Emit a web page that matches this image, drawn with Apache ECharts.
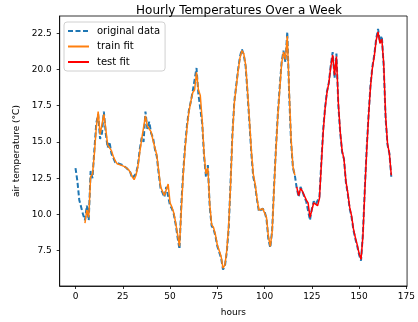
<!DOCTYPE html>
<html>
<head>
<meta charset="utf-8">
<script src="https://cdn.jsdelivr.net/npm/echarts@6/dist/echarts.min.js"></script>
<style>
    html, body { margin: 0; padding: 0; background: #fff; }
    #chart { width: 418px; height: 322px; }
</style>
</head>
<body>
<div id="chart"></div>
<script>
// 原始数据 每小时一个点 (0..167)
var original = [13.2, 12.3, 11.0, 10.5, 10.0, 9.6, 10.6, 9.6, 13.0, 12.5,
    14.5, 16.3, 16.9, 15.2, 15.6, 17.1, 15.6, 14.6, 15.0, 14.2,
    13.9, 13.6, 13.6, 13.5, 13.4, 13.4, 13.3, 13.2, 13.1, 12.9,
    12.5, 12.4, 12.8, 13.4, 14.5, 15.3, 15.0, 17.1, 15.9, 16.4,
    15.6, 15.3, 14.5, 14.0, 12.8, 11.8, 11.5, 11.2, 11.9, 12.0,
    10.6, 10.4, 10.0, 9.3, 8.4, 7.6, 10.8, 13.0, 14.8, 16.2,
    17.2, 17.8, 18.5, 18.4, 20.1, 18.3, 18.4, 16.3, 14.0, 12.6,
    13.4, 10.5, 9.2, 9.0, 8.5, 7.8, 7.9, 7.0, 6.2, 6.4,
    7.4, 9.0, 12.2, 15.6, 17.8, 18.9, 20.0, 20.9, 21.4, 21.0,
    20.2, 18.3, 16.3, 14.2, 12.6, 12.0, 11.0, 10.2, 10.3, 10.4,
    10.2, 9.7, 8.3, 7.7, 8.9, 11.9, 14.6, 16.9, 18.8, 20.5,
    21.3, 20.5, 22.6, 18.3, 15.0, 13.2, 12.7, 11.8, 11.2, 11.9,
    11.6, 11.2, 10.9, 10.8, 9.6, 10.4, 10.9, 10.7, 10.7, 11.2,
    13.6, 15.9, 17.4, 18.5, 19.1, 20.3, 21.2, 19.4, 21.1, 17.5,
    15.6, 14.3, 13.8, 12.2, 11.4, 10.4, 9.8, 8.9, 8.3, 7.8,
    7.2, 6.8, 8.7, 11.8, 14.6, 16.9, 18.9, 20.2, 21.0, 22.1,
    22.8, 21.9, 22.3, 20.2, 16.6, 14.8, 14.2, 12.6];

// 训练拟合 从第5小时开始
var trainStart = 5;
var trainFit = [9.4, 10.3, 9.8, 12.6, 12.8, 14.2, 16.0, 17.1, 15.5, 15.4,
    16.9, 15.9, 14.8, 14.8, 14.4, 14.0, 13.7, 13.5, 13.6, 13.4,
    13.3, 13.3, 13.2, 13.1, 12.9, 12.6, 12.4, 12.7, 13.3, 14.3,
    15.2, 15.2, 16.8, 16.1, 16.2, 15.7, 15.1, 14.6, 14.1, 13.0,
    11.9, 11.6, 11.3, 11.7, 12.1, 10.8, 10.5, 10.1, 9.4, 8.6,
    7.8, 10.4, 12.8, 14.6, 16.0, 17.1, 17.8, 18.4, 18.6, 19.8,
    18.6, 18.2, 16.5, 14.2, 12.8, 13.2, 10.7, 9.3, 9.1, 8.6,
    7.9, 8.0, 7.1, 6.3, 6.5, 7.5, 9.2, 12.0, 15.4, 17.7,
    18.8, 19.9, 20.8, 21.3, 21.1, 20.3, 18.5, 16.5, 14.4, 12.8,
    12.1, 11.1, 10.3, 10.3, 10.4, 10.3, 9.8, 8.5, 7.8, 8.8,
    11.7, 14.4, 16.8, 18.6, 20.4, 21.2, 20.7, 22.3, 18.6, 15.2,
    13.3, 12.7];

// 测试拟合 从第117小时开始
var testStart = 117;
var testFit = [11.9, 11.3, 11.8, 11.6, 11.3, 11.0, 10.8, 9.8, 10.3,
    10.8, 10.7, 10.6, 11.1, 13.4, 15.7, 17.3, 18.4, 19.1, 20.2,
    21.0, 19.6, 20.9, 17.7, 15.7, 14.4, 13.8, 12.3, 11.5, 10.5,
    9.9, 9.0, 8.4, 7.9, 7.3, 6.9, 8.5, 11.6, 14.4, 16.8,
    18.8, 20.1, 20.9, 22.0, 22.6, 21.8, 22.1, 20.4, 16.8, 14.9,
    14.2, 12.7];

var xTicks = [0, 25, 50, 75, 100, 125, 150, 175];
var yTicks = [7.5, 10.0, 12.5, 15.0, 17.5, 20.0, 22.5];

function toPairs(arr, start) {
    var res = [];
    for (var i = 0; i < arr.length; i++) {
        res.push([start + i, arr[i]]);
    }
    return res;
}

var myChart = echarts.init(document.getElementById('chart'));

var font = 'DejaVu Sans';
var option = {
    animation: false,
    title: {
        text: 'Hourly Temperatures Over a Week',
        left: 234,
        top: 0,
        textAlign: 'center',
        textStyle: { fontFamily: font, fontSize: 12, fontWeight: 'normal', color: '#000' }
    },
    legend: {
        orient: 'vertical',
        left: 64,
        top: 22,
        padding: [4, 5, 4, 3],
        itemWidth: 21,
        itemHeight: 10,
        itemGap: 5.5,
        borderColor: '#d0d0d0',
        borderWidth: 1,
        borderRadius: 3,
        itemStyle: { opacity: 0 },
        textStyle: { fontFamily: font, fontSize: 10, color: '#000', padding: [0, 0, 0, 3] },
        data: ['original data', 'train fit', 'test fit']
    },
    grid: {
        left: 59.7,
        right: 8.7,
        top: 16,
        bottom: 36,
        show: true,
        borderColor: '#000',
        borderWidth: 0.8
    },
    xAxis: {
        type: 'value',
        min: -8.35,
        max: 175.35,
        name: 'hours',
        nameLocation: 'middle',
        nameGap: 22,
        nameTextStyle: { fontFamily: font, fontSize: 9, color: '#000' },
        splitLine: { show: false },
        axisLine: { show: true, onZero: false, lineStyle: { color: '#000', width: 0.8 } },
        axisTick: { show: true, length: 3, lineStyle: { color: '#000', width: 0.8 }, customValues: xTicks },
        axisLabel: {
            fontFamily: font, fontSize: 9, color: '#000', margin: 6,
            customValues: xTicks
        }
    },
    yAxis: {
        type: 'value',
        min: 5.06,
        max: 23.69,
        name: 'air temperature (°C)',
        nameLocation: 'middle',
        nameGap: 36,
        nameTextStyle: { fontFamily: font, fontSize: 9, color: '#000' },
        splitLine: { show: false },
        axisLine: { show: true, onZero: false, lineStyle: { color: '#000', width: 0.8 } },
        axisTick: { show: true, length: 3, lineStyle: { color: '#000', width: 0.8 }, customValues: yTicks },
        axisLabel: {
            fontFamily: font, fontSize: 9, color: '#000', margin: 8,
            customValues: yTicks,
            formatter: function (v) { return v.toFixed(1); }
        }
    },
    series: [
        {
            name: 'original data',
            type: 'line',
            symbol: 'none',
            data: toPairs(original, 0),
            lineStyle: { color: '#1f77b4', width: 2, type: [5, 2.5] },
            itemStyle: { color: '#1f77b4' },
            z: 2
        },
        {
            name: 'train fit',
            type: 'line',
            symbol: 'none',
            data: toPairs(trainFit, trainStart),
            lineStyle: { color: '#ff7f0e', width: 1.5 },
            itemStyle: { color: '#ff7f0e' },
            z: 3
        },
        {
            name: 'test fit',
            type: 'line',
            symbol: 'none',
            data: toPairs(testFit, testStart),
            lineStyle: { color: '#ff0000', width: 1.5 },
            itemStyle: { color: '#ff0000' },
            z: 4
        }
    ]
};

myChart.setOption(option);
</script>
</body>
</html>
